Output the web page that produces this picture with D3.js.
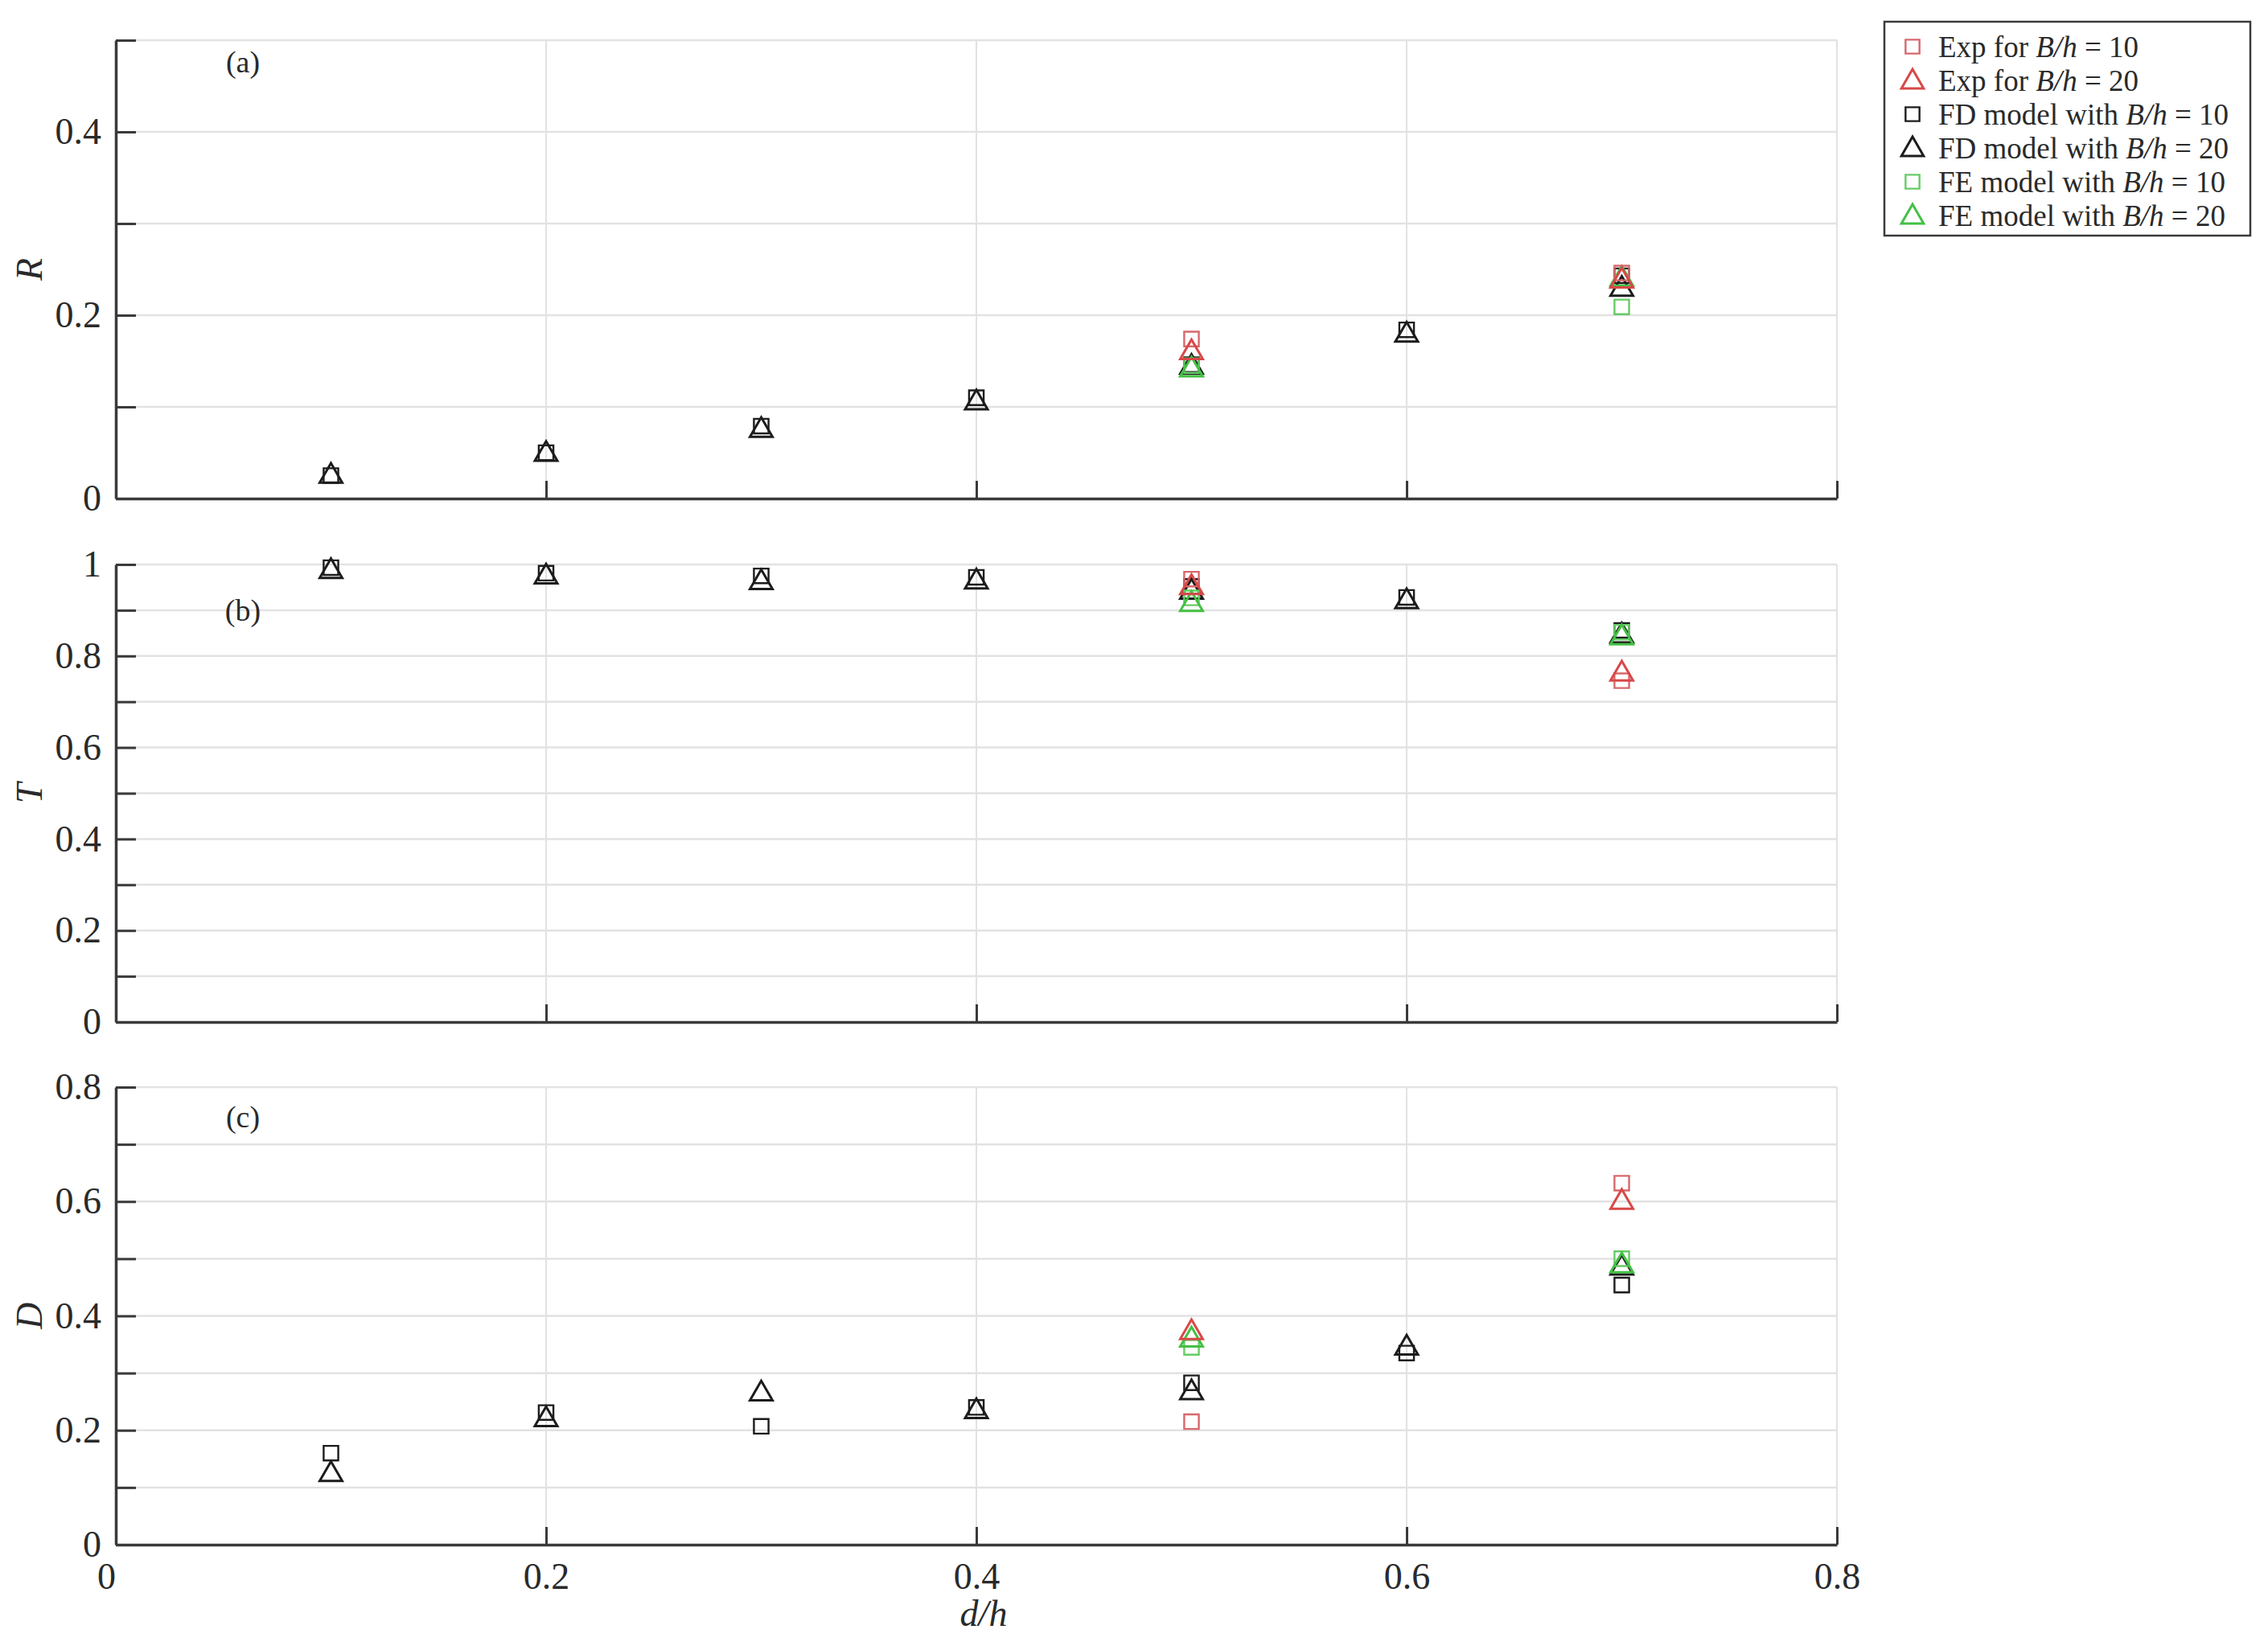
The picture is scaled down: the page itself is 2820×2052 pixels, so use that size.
<!DOCTYPE html>
<html>
<head>
<meta charset="utf-8">
<script src="https://cdn.jsdelivr.net/npm/d3@7"></script>
<style>
  body { margin: 0; background: #fff; }
  svg { display: block; }
  text { font-family: "Liberation Serif", "Times New Roman", serif; fill: #2a2a2a; }
</style>
</head>
<body>
<svg id="chart" width="2820" height="2052"></svg>
<script>
// ---------------- DATA ----------------
const dh    = [0.1, 0.2, 0.3, 0.4, 0.5, 0.6, 0.7];
const dhSub = [0.5, 0.7];

// (a) reflection coefficient R
const R_FD10  = [0.025, 0.050, 0.079, 0.110, 0.146, 0.184, 0.243];
const R_FD20  = [0.027, 0.051, 0.077, 0.107, 0.146, 0.181, 0.231];
const R_FE10  = [0.145, 0.209];
const R_FE20  = [0.143, 0.242];
const R_Exp10 = [0.174, 0.246];
const R_Exp20 = [0.162, 0.240];

// (b) transmission coefficient T
const T_FD10  = [0.993, 0.981, 0.975, 0.972, 0.952, 0.928, 0.856];
const T_FD20  = [0.990, 0.978, 0.966, 0.967, 0.945, 0.924, 0.849];
const T_FE10  = [0.927, 0.852];
const T_FE20  = [0.918, 0.845];
const T_Exp10 = [0.968, 0.746];
const T_Exp20 = [0.955, 0.766];

// (c) dissipation coefficient D
const D_FD10  = [0.160, 0.231, 0.207, 0.240, 0.283, 0.335, 0.454];
const D_FD20  = [0.127, 0.223, 0.268, 0.237, 0.270, 0.348, 0.488];
const D_FE10  = [0.345, 0.500];
const D_FE20  = [0.362, 0.492];
const D_Exp10 = [0.215, 0.632];
const D_Exp20 = [0.375, 0.603];

const xTicks = [0, 0.2, 0.4, 0.6, 0.8];
const legendLabels = [
  ["Exp for ", "B/h", " = 10"],
  ["Exp for ", "B/h", " = 20"],
  ["FD model with ", "B/h", " = 10"],
  ["FD model with ", "B/h", " = 20"],
  ["FE model with ", "B/h", " = 10"],
  ["FE model with ", "B/h", " = 20"]
];

// ---------------- STYLE ----------------
const RED_SQ = "#d8686c", RED_TRI = "#d84848";
const BLACK = "#1c1c1c";
const GREEN_SQ = "#66cc66", GREEN_TRI = "#44c044";
const GRID = "#e2e2e2", AXIS = "#3a3a3a";

const svg = d3.select("#chart");
const x = d3.scaleLinear().domain([0, 0.8]).range([144, 2284]);

const panels = [
  { name: "R", tag: "(a)", domain: [0, 0.5], top: 50, bottom: 620, tagDy: 40,
    series: [
      {xs: dh, ys: R_FD10, shape: "sq", color: BLACK},
      {xs: dh, ys: R_FD20, shape: "tri", color: BLACK},
      {xs: dhSub, ys: R_FE10, shape: "sq", color: GREEN_SQ},
      {xs: dhSub, ys: R_FE20, shape: "tri", color: GREEN_TRI},
      {xs: dhSub, ys: R_Exp10, shape: "sq", color: RED_SQ},
      {xs: dhSub, ys: R_Exp20, shape: "tri", color: RED_TRI}
    ]},
  { name: "T", tag: "(b)", domain: [0, 1], top: 702, bottom: 1271, tagDy: 70,
    series: [
      {xs: dh, ys: T_FD10, shape: "sq", color: BLACK},
      {xs: dh, ys: T_FD20, shape: "tri", color: BLACK},
      {xs: dhSub, ys: T_FE10, shape: "sq", color: GREEN_SQ},
      {xs: dhSub, ys: T_FE20, shape: "tri", color: GREEN_TRI},
      {xs: dhSub, ys: T_Exp10, shape: "sq", color: RED_SQ},
      {xs: dhSub, ys: T_Exp20, shape: "tri", color: RED_TRI}
    ]},
  { name: "D", tag: "(c)", domain: [0, 0.8], top: 1352, bottom: 1921, tagDy: 50,
    series: [
      {xs: dh, ys: D_FD10, shape: "sq", color: BLACK},
      {xs: dh, ys: D_FD20, shape: "tri", color: BLACK},
      {xs: dhSub, ys: D_FE10, shape: "sq", color: GREEN_SQ},
      {xs: dhSub, ys: D_FE20, shape: "tri", color: GREEN_TRI},
      {xs: dhSub, ys: D_Exp10, shape: "sq", color: RED_SQ},
      {xs: dhSub, ys: D_Exp20, shape: "tri", color: RED_TRI}
    ]}
];

const sqSym  = d3.symbol().type(d3.symbolSquare).size(330);
const triSym = d3.symbol().type(d3.symbolTriangle).size(340);

function fmt(v) { return d3.format("~g")(+v.toFixed(2)); }

panels.forEach((p, pi) => {
  const y = d3.scaleLinear().domain(p.domain).range([p.bottom, p.top]);
  const yTicks = d3.range(0, Math.round(p.domain[1] * 10) + 1).map(i => i / 10);
  const g = svg.append("g");

  // grid
  g.append("g").selectAll("line.h").data(yTicks.filter(t => t > 0)).join("line")
    .attr("x1", x(0)).attr("x2", x(0.8))
    .attr("y1", d => y(d)).attr("y2", d => y(d))
    .attr("stroke", GRID).attr("stroke-width", 2.5);
  g.append("g").selectAll("line.v").data(xTicks.filter(t => t > 0)).join("line")
    .attr("x1", d => x(d)).attr("x2", d => x(d))
    .attr("y1", y(p.domain[0])).attr("y2", y(p.domain[1]))
    .attr("stroke", GRID).attr("stroke-width", 2);

  // y axis
  const ya = g.append("g").attr("transform", `translate(${x(0)},0)`)
    .call(d3.axisLeft(y).tickValues(yTicks).tickSizeInner(-25).tickSizeOuter(0).tickPadding(18)
      .tickFormat(d => (Math.round(d * 10) % 2 === 0 ? fmt(d) : "")));
  // x axis
  const xa = g.append("g").attr("transform", `translate(0,${p.bottom})`)
    .call(d3.axisBottom(x).tickValues(xTicks).tickSizeInner(-22).tickSizeOuter(0).tickPadding(22)
      .tickFormat(d => (pi === 2 ? fmt(d) : "")));
  [ya, xa].forEach(a => {
    a.select(".domain").attr("stroke", AXIS).attr("stroke-width", 3.5);
    a.selectAll(".tick line").attr("stroke", AXIS).attr("stroke-width", 3);
    a.selectAll(".tick text").attr("font-size", 46).attr("fill", "#2a2a2a")
      .style("font-family", '"Liberation Serif", "Times New Roman", serif');
  });
  xa.selectAll(".tick").filter(d => d === 0).select("line").remove();
  xa.selectAll(".tick").filter(d => d === 0).select("text").attr("dx", -12);

  // axis title
  g.append("text")
    .attr("transform", `translate(52,${(p.top + p.bottom) / 2}) rotate(-90)`)
    .attr("text-anchor", "middle").attr("font-size", 46).attr("font-style", "italic")
    .text(p.name);

  // panel tag
  g.append("text").attr("x", 302).attr("y", p.top + p.tagDy)
    .attr("text-anchor", "middle").attr("font-size", 38).text(p.tag);

  // points
  p.series.forEach(s => {
    g.append("g").selectAll("path").data(s.xs.map((xv, i) => [xv, s.ys[i]])).join("path")
      .attr("d", s.shape === "sq" ? sqSym() : triSym())
      .attr("transform", d => `translate(${x(d[0])},${y(d[1]) + (s.shape === "tri" ? 3 : 0)})`)
      .attr("fill", "none").attr("stroke", s.color)
      .attr("stroke-width", s.shape === "sq" ? 2.4 : 3);
  });
});

// x axis title
svg.append("text").attr("x", 1223).attr("y", 2022).attr("text-anchor", "middle")
  .attr("font-size", 46).attr("font-style", "italic").text("d/h");

// ---------------- LEGEND ----------------
const legendShapes = ["sq", "tri", "sq", "tri", "sq", "tri"];
const legendColors = [RED_SQ, RED_TRI, BLACK, BLACK, GREEN_SQ, GREEN_TRI];
const lg = svg.append("g");
lg.append("rect").attr("x", 2343).attr("y", 27).attr("width", 455).attr("height", 266)
  .attr("fill", "#fff").attr("stroke", "#3a3a3a").attr("stroke-width", 2.5);
const legSq = d3.symbol().type(d3.symbolSquare).size(300);
const legTri = d3.symbol().type(d3.symbolTriangle).size(330);
legendLabels.forEach((lab, i) => {
  const yy = 58 + i * 42;
  lg.append("path").attr("d", legendShapes[i] === "sq" ? legSq() : legTri())
    .attr("transform", `translate(2378,${yy + (legendShapes[i] === "tri" ? 2 : 0)})`)
    .attr("fill", "none").attr("stroke", legendColors[i])
    .attr("stroke-width", legendShapes[i] === "sq" ? 2.4 : 3);
  const t = lg.append("text").attr("x", 2410).attr("y", yy + 13).attr("font-size", 37);
  t.append("tspan").text(lab[0]);
  t.append("tspan").attr("font-style", "italic").text(lab[1]);
  t.append("tspan").text(lab[2]);
});
</script>
</body>
</html>
